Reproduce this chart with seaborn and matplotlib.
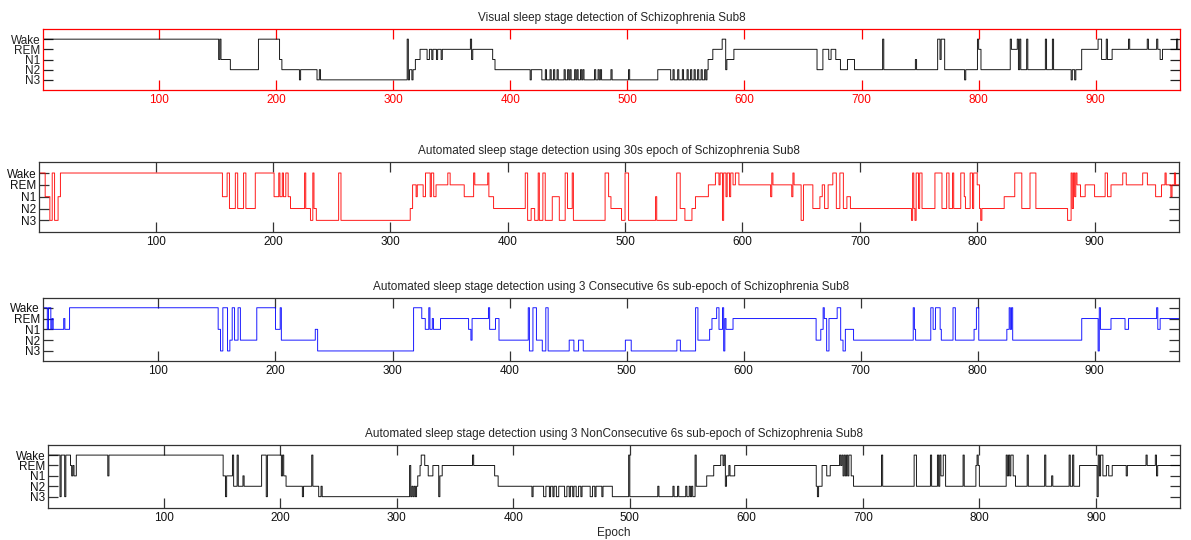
import numpy as np
import pandas as pd
import matplotlib
matplotlib.use("Agg")
import matplotlib.pyplot as plt
import seaborn as sns

# ---------------- data ----------------
n_epochs = 972
stage_values = [1, 2, 3, 4, 5]
stage_labels = ["N3", "N2", "N1", "REM", "Wake"]
epoch_ticks = [100, 200, 300, 400, 500, 600, 700, 800, 900]

titles = [
    "Visual sleep stage detection of Schizophrenia Sub8",
    "Automated sleep stage detection using 30s epoch of Schizophrenia Sub8",
    "Automated sleep stage detection using 3 Consecutive 6s sub-epoch of Schizophrenia Sub8",
    "Automated sleep stage detection using 3 NonConsecutive 6s sub-epoch of Schizophrenia Sub8",
]

# change points (epoch where a new stage starts) and the stage (5=Wake,4=REM,3=N1,2=N2,1=N3)
p1_start = [1, 151, 152, 153, 161, 185, 203, 205, 220, 221, 235, 237, 238, 312, 313, 314, 316, 317, 319, 323,
            329, 331, 333, 334, 337, 338, 341, 342, 366, 367, 368, 385, 387, 417, 418, 427, 430, 431, 434, 435,
            437, 438, 440, 441, 446, 447, 449, 450, 451, 452, 455, 456, 457, 458, 460, 461, 462, 463, 472, 473,
            475, 476, 477, 478, 486, 487, 501, 502, 526, 537, 539, 540, 543, 544, 547, 548, 551, 552, 554, 555,
            557, 558, 560, 561, 563, 564, 566, 567, 568, 569, 573, 581, 584, 585, 591, 662, 667, 672, 674, 678,
            682, 688, 694, 718, 719, 746, 747, 765, 767, 768, 771, 788, 789, 799, 800, 802, 827, 828, 833, 834,
            835, 836, 841, 842, 857, 858, 863, 864, 879, 880, 882, 883, 888, 902, 905, 909, 910, 914, 928, 929,
            944, 945, 952, 953, 955, 957, 969, 970]
p1_stage = [5, 3, 5, 3, 2, 5, 3, 2, 1, 2, 1, 2, 1, 5, 1, 2, 1, 2, 3, 4,
            3, 4, 3, 4, 3, 4, 3, 4, 5, 3, 4, 3, 2, 1, 2, 1, 2, 1, 2, 1,
            2, 1, 2, 1, 2, 1, 2, 1, 2, 1, 2, 1, 2, 1, 2, 1, 2, 1, 2, 1,
            2, 1, 2, 1, 2, 1, 2, 1, 2, 1, 2, 1, 2, 1, 2, 1, 2, 1, 2, 1,
            2, 1, 2, 1, 2, 1, 2, 1, 2, 3, 4, 5, 2, 3, 4, 2, 4, 3, 4, 3,
            2, 3, 2, 5, 2, 3, 2, 5, 3, 5, 2, 1, 2, 5, 4, 2, 5, 4, 5, 2,
            5, 2, 5, 2, 5, 2, 5, 2, 1, 2, 1, 2, 4, 5, 3, 5, 3, 4, 5, 4,
            5, 4, 5, 4, 3, 4, 5, 4]

p2_start = [1, 6, 10, 12, 14, 17, 19, 157, 161, 163, 168, 170, 175, 177, 185, 201, 205, 206, 208, 209,
            211, 213, 215, 227, 228, 232, 234, 235, 237, 256, 258, 317, 319, 322, 323, 328, 330, 334, 335, 337,
            339, 349, 351, 363, 371, 372, 383, 384, 388, 415, 417, 420, 423, 426, 427, 430, 432, 438, 444, 449,
            451, 455, 456, 483, 486, 488, 497, 500, 503, 526, 527, 544, 547, 551, 557, 560, 571, 577, 580, 581,
            583, 584, 586, 587, 589, 590, 592, 594, 597, 624, 625, 626, 642, 643, 644, 650, 652, 660, 666, 668,
            670, 673, 677, 680, 683, 686, 689, 692, 744, 745, 746, 747, 748, 750, 751, 753, 764, 770, 774, 776,
            779, 780, 786, 789, 790, 794, 796, 797, 800, 802, 803, 804, 823, 832, 838, 845, 850, 877, 880, 881,
            882, 883, 884, 885, 888, 892, 900, 909, 911, 914, 924, 927, 941, 945, 952, 957, 960, 961, 965, 966,
            968, 969]
p2_stage = [5, 3, 1, 5, 1, 3, 5, 3, 5, 2, 5, 2, 5, 2, 5, 3, 5, 3, 5, 3,
            5, 3, 2, 5, 2, 1, 5, 2, 1, 5, 1, 2, 4, 3, 4, 3, 5, 3, 5, 3,
            4, 5, 4, 3, 5, 4, 5, 3, 2, 5, 1, 2, 1, 5, 1, 5, 1, 3, 1, 5,
            2, 5, 1, 5, 3, 2, 1, 5, 1, 3, 1, 5, 2, 1, 2, 3, 4, 5, 4, 5,
            1, 5, 3, 5, 3, 5, 4, 5, 4, 3, 5, 4, 3, 5, 4, 1, 4, 2, 3, 4,
            2, 4, 5, 2, 5, 2, 3, 2, 1, 5, 2, 1, 5, 2, 5, 2, 5, 2, 5, 2,
            5, 2, 5, 3, 2, 5, 2, 5, 4, 2, 1, 2, 3, 5, 2, 5, 2, 1, 5, 2,
            5, 3, 5, 4, 3, 4, 3, 5, 3, 4, 5, 4, 5, 4, 3, 4, 5, 4, 3, 4,
            5, 4]

p3_start = [1, 5, 6, 8, 9, 10, 19, 20, 24, 151, 153, 155, 159, 161, 163, 165, 168, 170, 184, 200,
            204, 205, 234, 236, 318, 325, 328, 331, 332, 334, 335, 341, 365, 367, 368, 382, 383, 388, 391, 416,
            417, 420, 423, 428, 431, 433, 451, 455, 459, 463, 499, 504, 543, 546, 559, 561, 571, 573, 577, 579,
            582, 583, 584, 585, 591, 662, 666, 668, 669, 671, 673, 680, 683, 685, 687, 694, 745, 746, 747, 760,
            762, 764, 768, 769, 779, 781, 797, 799, 801, 825, 827, 828, 829, 830, 889, 903, 904, 905, 914, 926,
            929, 953, 954, 956]
p3_stage = [5, 3, 5, 3, 4, 3, 4, 3, 5, 3, 1, 5, 1, 2, 5, 2, 5, 2, 5, 3,
            5, 2, 3, 1, 5, 4, 3, 5, 3, 4, 3, 4, 3, 2, 4, 5, 3, 4, 2, 5,
            1, 5, 2, 1, 5, 1, 2, 1, 2, 1, 2, 1, 2, 1, 5, 2, 3, 4, 5, 3,
            5, 1, 4, 3, 4, 2, 3, 5, 4, 1, 4, 5, 2, 1, 3, 2, 5, 3, 2, 5,
            3, 5, 3, 2, 5, 2, 3, 5, 2, 3, 5, 3, 5, 2, 4, 1, 5, 3, 4, 3,
            4, 5, 3, 4]

p4_start = [1, 11, 12, 15, 16, 20, 21, 22, 23, 25, 52, 53, 151, 153, 154, 159, 160, 163, 164, 168,
            169, 184, 188, 189, 201, 202, 203, 205, 219, 220, 227, 228, 233, 235, 236, 311, 312, 313, 314, 315,
            316, 317, 318, 320, 321, 324, 327, 331, 336, 337, 339, 365, 366, 384, 387, 416, 417, 426, 428, 431,
            432, 434, 435, 437, 439, 444, 446, 448, 449, 451, 452, 454, 456, 458, 459, 466, 468, 470, 471, 476,
            477, 485, 499, 500, 524, 525, 537, 538, 541, 542, 548, 549, 551, 552, 553, 554, 556, 557, 566, 572,
            578, 580, 581, 582, 583, 585, 586, 590, 660, 661, 662, 665, 669, 672, 680, 681, 682, 683, 684, 685,
            686, 687, 688, 690, 692, 716, 717, 744, 746, 758, 759, 764, 765, 766, 767, 769, 771, 786, 787, 797,
            798, 799, 800, 823, 824, 825, 826, 827, 829, 831, 841, 842, 856, 857, 862, 863, 877, 878, 880, 881,
            886, 901, 902, 903, 904, 906, 909, 911, 914, 926, 927, 943, 944, 951, 952, 953]
p4_stage = [5, 1, 5, 1, 5, 4, 3, 4, 3, 5, 3, 5, 3, 1, 3, 5, 2, 5, 2, 3,
            2, 5, 1, 5, 3, 5, 3, 2, 1, 2, 5, 2, 1, 2, 1, 4, 1, 2, 1, 2,
            1, 2, 3, 4, 5, 4, 3, 4, 1, 3, 4, 5, 4, 3, 2, 1, 2, 1, 2, 1,
            2, 1, 2, 1, 2, 1, 2, 1, 2, 1, 2, 1, 2, 1, 2, 1, 2, 1, 2, 1,
            2, 1, 5, 1, 2, 1, 2, 1, 2, 1, 2, 1, 2, 1, 2, 1, 5, 2, 3, 4,
            5, 4, 5, 2, 3, 4, 3, 4, 2, 1, 2, 4, 3, 4, 5, 4, 5, 3, 5, 3,
            5, 3, 5, 3, 2, 5, 2, 5, 2, 5, 2, 5, 2, 5, 3, 5, 2, 5, 2, 4,
            5, 4, 2, 5, 3, 5, 3, 5, 3, 2, 5, 2, 5, 2, 3, 2, 5, 2, 5, 2,
            4, 1, 5, 3, 5, 3, 4, 3, 4, 3, 4, 5, 4, 5, 3, 4]

line_colors = ["#000000", "#ff0000", "#0000ff", "#000000"]


def expand(starts, stages):
    epochs = np.arange(1, n_epochs + 1)
    idx = np.searchsorted(np.asarray(starts), epochs, side="right") - 1
    return pd.DataFrame({"Epoch": epochs, "Stage": np.asarray(stages)[idx]})


panels = [expand(p1_start, p1_stage), expand(p2_start, p2_stage),
          expand(p3_start, p3_stage), expand(p4_start, p4_stage)]

# ---------------- style / layout ----------------
sns.set_style("white")
plt.rcParams["font.family"] = ["Liberation Sans", "DejaVu Sans"]

fig = plt.figure(figsize=(11.91, 5.40), dpi=100)
positions = [
    (0.0361, 0.8333, 0.9547, 0.113),
    (0.0330, 0.5700, 0.9570, 0.130),
    (0.0358, 0.3315, 0.9540, 0.116),
    (0.0406, 0.0587, 0.9500, 0.117),
]
ylims = [(0, 6), (0, 5.93), (0.07, 5.87), (-0.12, 5.96)]

for i, df in enumerate(panels):
    ax = fig.add_axes(positions[i])
    sns.lineplot(data=df, x="Epoch", y="Stage", drawstyle="steps-post", estimator=None,
                 color=line_colors[i], lw=0.7, alpha=0.9, ax=ax)
    ax.set_xlim(1, n_epochs)
    ax.set_ylim(*ylims[i])
    ax.set_xticks(epoch_ticks)
    ax.set_yticks(stage_values)
    ax.set_yticklabels(stage_labels)
    ax.tick_params(direction="in", top=True, bottom=True, left=True, right=True,
                   length=7, width=0.9, labelsize=8.5, pad=3)
    ax.tick_params(axis="y", pad=2)
    ax.set_ylabel("")
    ax.set_xlabel("Epoch" if i == 3 else "", fontsize=8.5, labelpad=2)
    ax.set_title(titles[i], fontsize=8.5, pad=6)
    for s in ax.spines.values():
        s.set_visible(True)
        s.set_linewidth(0.9)
        s.set_edgecolor("red" if i == 0 else "#333333")
    if i == 0:
        ax.tick_params(axis="x", colors="red")
        ax.tick_params(axis="y", colors="#222222")
    else:
        ax.tick_params(colors="#333333", labelcolor="#111111")

fig.savefig("out.png", dpi=100)
